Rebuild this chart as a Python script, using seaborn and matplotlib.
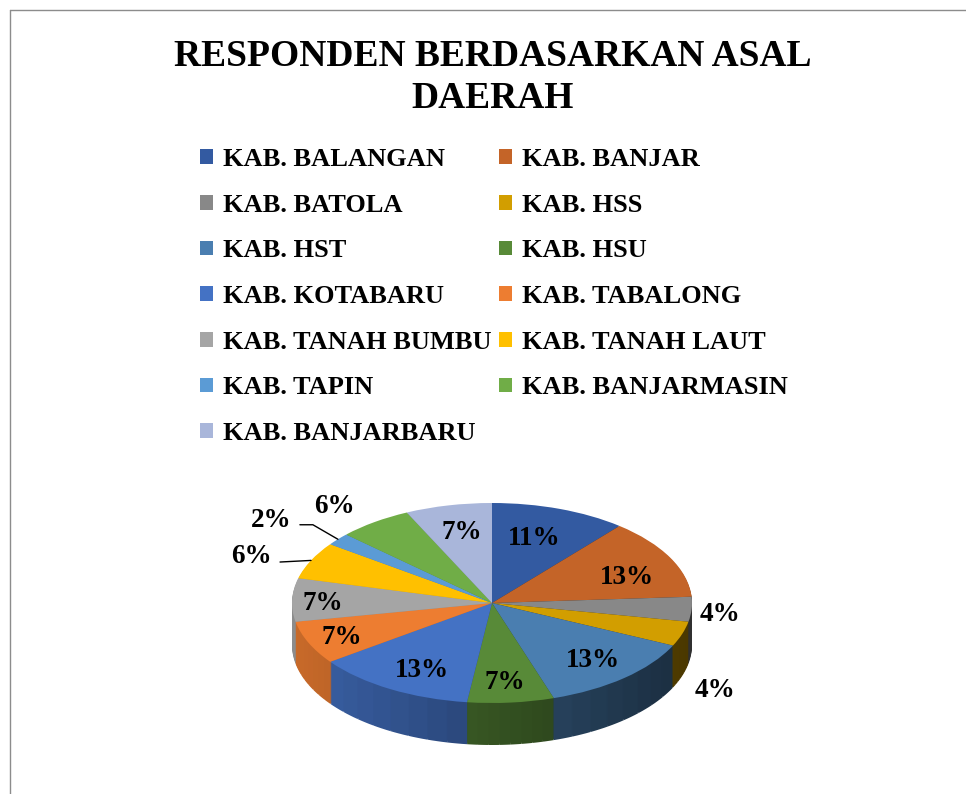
import numpy as np
import matplotlib
matplotlib.use("Agg")
import matplotlib.pyplot as plt
import matplotlib.colors as mcolors
from matplotlib.lines import Line2D
import seaborn as sns

# data
labels = ["KAB. BALANGAN", "KAB. BANJAR", "KAB. BATOLA", "KAB. HSS",
          "KAB. HST", "KAB. HSU", "KAB. KOTABARU", "KAB. TABALONG",
          "KAB. TANAH BUMBU", "KAB. TANAH LAUT", "KAB. TAPIN",
          "KAB. BANJARMASIN", "KAB. BANJARBARU"]
values = [11, 13, 4, 4, 13, 7, 13, 7, 7, 6, 2, 6, 7]
colors = ["#335AA1", "#C46428", "#888888", "#D29E00", "#4A7EB0", "#588A38",
          "#4472C4", "#ED7D31", "#A5A5A5", "#FFC000", "#5B9BD5", "#70AD47",
          "#A9B6DA"]

# label placement (radial factors in x / y of the ellipse)
lab_rx = [0.63, 0.76, 1.14, 1.17, 0.76, 0.69, 0.69, 0.82, 0.845, 1.33, 1.43, 1.34, 0.69]
lab_ry = [0.69, 0.57, 1.90, 2.82, 0.77, 0.80, 0.78, 0.88, 0.00, 1.10, 1.30, 1.19, 0.72]

sns.set_theme(style="white")
plt.rcParams["font.family"] = ["Liberation Serif", "DejaVu Serif"]
plt.rcParams["font.weight"] = "bold"
plt.rcParams["text.color"] = "black"

W, H = 966, 794
fig = plt.figure(figsize=(W / 100, H / 100), dpi=100)
ax = fig.add_axes([0, 0, 1, 1])

# pie top ellipse in pixels
cx, cy, rx, ry = 492, 603, 200, 100
depth = 0.42

# side of the 3d pie: stacked pies, shaded by angle
n_sub = 8
total = sum(values)
sub_vals, sub_cols = [], []
start = 0
for v, c in zip(values, colors):
    for k in range(n_sub):
        mid = 90 - 360 * (start + v * (k + 0.5) / n_sub) / total
        f = 0.6 - 0.25 * np.cos(np.radians(mid))
        sub_vals.append(v / n_sub)
        sub_cols.append(np.clip(np.array(mcolors.to_rgb(c)) * f, 0, 1))
    start += v

for d in np.arange(depth, 0, -0.01):
    ax.pie(sub_vals, colors=sub_cols, startangle=90, counterclock=False,
           center=(0, -d), radius=1, wedgeprops=dict(linewidth=0))

wedges, _ = ax.pie(values, colors=colors, startangle=90, counterclock=False,
                   center=(0, 0), radius=1, wedgeprops=dict(linewidth=0))

# percentage labels
for i, (w, v) in enumerate(zip(wedges, values)):
    th = np.radians((w.theta1 + w.theta2) / 2)
    ax.text(lab_rx[i] * np.cos(th), lab_ry[i] * np.sin(th), f"{v}%",
            ha="center", va="center", fontsize=19.5, fontweight="bold",
            color="black")

# leader lines for small slices
th = np.radians((wedges[10].theta1 + wedges[10].theta2) / 2)
ex, ey = np.cos(th), np.sin(th)
ax.plot([ex, ex - 0.125, ex - 0.19], [ey, ey + 0.145, ey + 0.145],
        color="black", lw=1)
th = np.radians((wedges[9].theta1 + wedges[9].theta2) / 2)
ex, ey = np.cos(th), np.sin(th)
ax.plot([ex, ex - 0.155], [ey, ey - 0.016], color="black", lw=1)

ax.set_aspect("auto")
ax.set_xlim((0 - cx) / rx, (W - cx) / rx)
ax.set_ylim((cy - H) / ry, cy / ry)
ax.axis("off")

# legend, row-major order
order = list(range(0, 13, 2)) + list(range(1, 13, 2))
fig.legend([wedges[i] for i in order], [labels[i] for i in order],
           ncol=2, loc="upper left", bbox_to_anchor=(200 / W, 1 - 148 / H),
           frameon=False, fontsize=19, handlelength=0.48, handleheight=0.48,
           handletextpad=0.38, columnspacing=0.3, labelspacing=0.86,
           borderpad=0, borderaxespad=0, labelcolor="black")

# title
fig.text(493 / W, 1 - 57 / H, "RESPONDEN BERDASARKAN ASAL", ha="center",
         va="center", fontsize=27, fontweight="bold", color="black")
fig.text(493 / W, 1 - 99 / H, "DAERAH", ha="center", va="center",
         fontsize=27, fontweight="bold", color="black")

# chart area border
fig.add_artist(Line2D([10 / W, 1], [1 - 10 / H, 1 - 10 / H],
                      transform=fig.transFigure, color="#8c8c8c", lw=1))
fig.add_artist(Line2D([10 / W, 10 / W], [0, 1 - 10 / H],
                      transform=fig.transFigure, color="#8c8c8c", lw=1))

fig.savefig("out.png", dpi=100)
